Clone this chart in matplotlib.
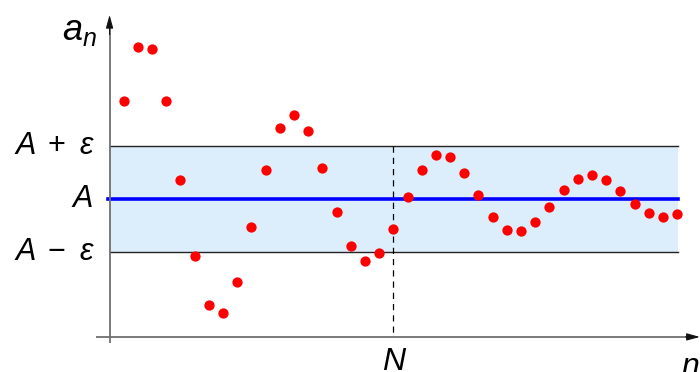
import matplotlib
matplotlib.use("Agg")
import matplotlib.pyplot as plt
import numpy as np

# data
n_values = list(range(1, 41))
a_values = [1.85, 2.87, 2.82, 1.85, 0.36, -1.07, -1.99, -2.14, -1.56, -0.53,
            0.56, 1.34, 1.59, 1.28, 0.58, -0.23, -0.88, -1.16, -1.02, -0.56,
            0.04, 0.55, 0.83, 0.80, 0.50, 0.08, -0.33, -0.58, -0.60, -0.43,
            -0.14, 0.17, 0.39, 0.46, 0.36, 0.15, -0.08, -0.25, -0.33, -0.28]
A = 0.0
eps = 1.0
N = 20
band_end = 40.05
band_labels = [("A", "+", "ε"), ("A", "", ""), ("A", "−", "ε")]

W, H = 700, 372
fig = plt.figure(figsize=(W / 100, H / 100), dpi=100)
ax = fig.add_axes([0, 0, 1, 1])
ax.set_xlim(-7.72, 41.61)
ax.set_ylim(-3.25, 3.75)
ax.axis("off")

font = dict(family=["Liberation Sans", "DejaVu Sans"], style="italic")
upfont = dict(family=["Liberation Sans", "DejaVu Sans"])


def fx(px):
    return px / W


# band
ax.fill_between([0, band_end], A - eps, A + eps, color="#dcedfc", zorder=1, lw=0)
ax.plot([0, band_end], [A + eps, A + eps], color="#222222", lw=1.0, zorder=2)
ax.plot([0, band_end], [A - eps, A - eps], color="#222222", lw=1.0, zorder=2)
ax.plot([-0.1, band_end], [A, A], color="#0000ff", lw=2.6, zorder=3)

# dashed N line
ax.plot([N, N], [A + eps, -2.59], color="black", lw=0.9, ls=(0, (5, 4)), zorder=2)

# axes: gray lines with black arrow heads
ax.plot([-0.95, 41.3], [-2.59, -2.59], color="#707070", lw=1.3, zorder=4, solid_capstyle="butt")
ax.plot([0, 0], [-2.71, 3.3], color="#707070", lw=1.3, zorder=4, solid_capstyle="butt")
ax.annotate("", xy=(41.6, -2.59), xytext=(40.6, -2.59),
            arrowprops=dict(arrowstyle="-|>,head_length=0.8,head_width=0.22",
                            color="#111111", lw=0.8, shrinkA=0, shrinkB=0), zorder=4)
ax.annotate("", xy=(0, 3.47), xytext=(0, 3.1),
            arrowprops=dict(arrowstyle="-|>,head_length=0.8,head_width=0.22",
                            color="#111111", lw=0.8, shrinkA=0, shrinkB=0), zorder=4)

# points
ax.plot(n_values, a_values, "o", color="#ff0000", markersize=7.4, markeredgewidth=0, zorder=5)

# band labels, placed piecewise in x (pixels) at the data y of each line
tr = ax.get_yaxis_transform()  # x in axes fraction, y in data
for (a_txt, op, e_txt), yv in zip(band_labels, [A + eps, A, A - eps]):
    if op:
        ax.text(fx(35.5), yv, a_txt, ha="right", va="center", fontsize=22, transform=tr, **font)
        ax.text(fx(56.3), yv, op, ha="center", va="center", fontsize=22, transform=tr, **upfont)
        ax.text(fx(92.5), yv, e_txt, ha="right", va="center", fontsize=22, transform=tr, **font)
    else:
        ax.text(fx(92.5), yv, a_txt, ha="right", va="center", fontsize=22, transform=tr, **font)

fig.text(fx(62), 1 - 40 / H, "a", ha="left", va="baseline", fontsize=26, **font)
fig.text(fx(83), 1 - 46 / H, "n", ha="left", va="baseline", fontsize=18, **font)
ax.text(N, -2.78, "N", ha="center", va="top", fontsize=23, **font)
ax.text(40.3, -2.88, "n", ha="left", va="top", fontsize=23, **font)

fig.savefig("out.png", dpi=100)
